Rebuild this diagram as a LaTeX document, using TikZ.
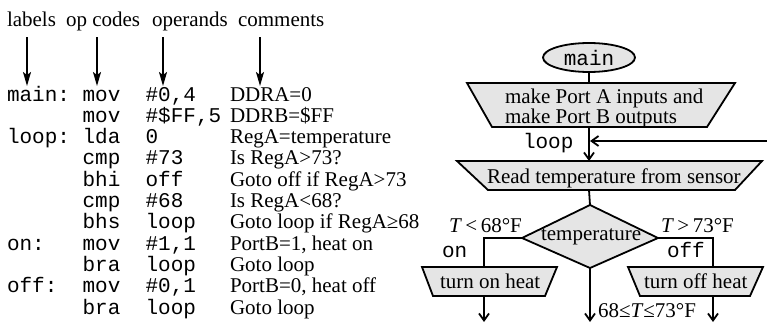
\documentclass[tikz,border=0pt]{standalone}
\usepackage{fontspec}
\setmainfont{Liberation Serif}
\setmonofont{Liberation Mono}
\usetikzlibrary{arrows.meta,shapes.geometric}
\newcommand\bigfs{\fontsize{21}{21}\selectfont}
\begin{document}
\begin{tikzpicture}[x=1pt,y=-1pt,
  every node/.style={inner sep=0pt, outer sep=0pt},
  txt/.style={font=\bigfs, anchor=base west},
  cd/.style={font=\bigfs\ttfamily, anchor=base west},
  hdrarrow/.style={line width=1.6pt, -{Stealth[length=14pt,width=8pt,inset=3pt]}},
  flow/.style={line width=1.8pt},
  flowarrow/.style={flow, -{Straight Barb[length=7pt,width=10pt]}},
  box/.style={draw, line width=1.8pt, fill=black!10, line join=miter},
]
\useasboundingbox (0,0) rectangle (767,324);

% ---------- column headers ----------
\node[txt] (hl) at (7,26) {labels};
\node[txt] (ho) at (66,26) {op codes};
\node[txt] (hp) at (152,26) {operands};
\node[txt] (hc) at (238,26) {comments};

\coordinate (a1t) at (27,37);  \coordinate (a1b) at (27,86);
\coordinate (a2t) at (97,37);  \coordinate (a2b) at (97,86);
\coordinate (a3t) at (163,37); \coordinate (a3b) at (163,86);
\coordinate (a4t) at (260,37); \coordinate (a4b) at (260,86);
\draw[hdrarrow] (a1t) -- (a1b);
\draw[hdrarrow] (a2t) -- (a2b);
\draw[hdrarrow] (a3t) -- (a3b);
\draw[hdrarrow] (a4t) -- (a4b);

% ---------- code listing ----------
\newcommand\coderow[5]{%
  \node[cd] (#2o) at (82.6,#1) {#3};
  \node[cd] (#2p) at (145.6,#1) {#4};
  \node[txt] (#2c) at (230,#1) {#5};}

\node[cd] (l1) at (7,101) {main:};
\coderow{101}{r1}{mov}{\#0,4}{DDRA=0}
\coderow{122.3}{r2}{mov}{\#\$FF,5}{DDRB=\$FF}
\node[cd] (l3) at (7,143.6) {loop:};
\coderow{143.6}{r3}{lda}{0}{RegA=temperature}
\coderow{164.9}{r4}{cmp}{\#73}{Is RegA>73?}
\coderow{186.2}{r5}{bhi}{off}{Goto off if RegA>73}
\coderow{207.5}{r6}{cmp}{\#68}{Is RegA<68?}
\coderow{228.8}{r7}{bhs}{loop}{Goto loop if RegA≥68}
\node[cd] (l8) at (7,250.1) {on:};
\coderow{250.1}{r8}{mov}{\#1,1}{PortB=1, heat on}
\coderow{271.4}{r9}{bra}{loop}{Goto loop}
\node[cd] (l10) at (7,292.7) {off:};
\coderow{292.7}{r10}{mov}{\#0,1}{PortB=0, heat off}
\coderow{314}{r11}{bra}{loop}{Goto loop}

% ---------- flowchart ----------
\node[draw, ellipse, line width=1.8pt, fill=black!10, minimum width=92pt,
      minimum height=29pt, font=\bigfs\ttfamily] (main) at (589,57.5) {main};

% initialisation block
\draw[box] (467,83) -- (735,83) -- (707,127) -- (492,127) -- cycle;
\coordinate (t1in) at (589,83);
\coordinate (t1out) at (589,127);
\node[txt] (t1a) at (505,103) {make Port A inputs and};
\node[txt] (t1b) at (505,123) {make Port B outputs};

% read block
\draw[box] (457,161) -- (762,161) -- (735,190) -- (488,190) -- cycle;
\coordinate (t2in) at (589,161);
\coordinate (t2out) at (589,190);
\node[txt] (t2) at (487,183) {Read temperature from sensor};

% decision
\draw[box] (590,205) coordinate (dtop) -- (658,238) coordinate (dright)
  -- (590,268) coordinate (dbot) -- (522,238) coordinate (dleft) -- cycle;
\node[txt] (temp) at (541,240) {temperature};

% heat on / off blocks
\draw[box] (422,267) -- (557,267) -- (545,296) -- (433,296) -- cycle;
\coordinate (t3in) at (484,267);
\coordinate (t3out) at (484,296);
\node[txt] (t3) at (440,288) {turn on heat};

\draw[box] (628,267) -- (763,267) -- (750,296) -- (640,296) -- cycle;
\coordinate (t4in) at (713,267);
\coordinate (t4out) at (713,296);
\node[txt] (t4) at (644,288) {turn off heat};

% connectors
\draw[flow] (main) -- (t1in);
\draw[flowarrow] (t1out) -- (t2in);
\coordinate (loopin) at (767,141);
\coordinate (loopend) at (590,141);
\draw[flowarrow] (loopin) -- (loopend);
\node[cd] (looplab) at (523,148) {loop};
\draw[flow] (t2out) -- (dtop);
\draw[flow] (dleft) -| (t3in);
\draw[flow] (dright) -| (t4in);

\coordinate (e1) at (484,322);
\coordinate (e2) at (590,322);
\coordinate (e3) at (713,322);
\draw[flowarrow] (t3out) -- (e1);
\draw[flowarrow] (dbot) -- (e2);
\draw[flowarrow] (t4out) -- (e3);

% branch labels
\node[txt] (lt) at (449,232) {\textit{T}\,<\,68°F};
\node[txt] (gt) at (661,232) {\textit{T}\,>\,73°F};
\node[cd] (onlab) at (442,257) {on};
\node[cd] (offlab) at (667,257) {off};
\node[txt] (mid) at (598,317) {68≤\textit{T}≤73°F};
\end{tikzpicture}
\end{document}
